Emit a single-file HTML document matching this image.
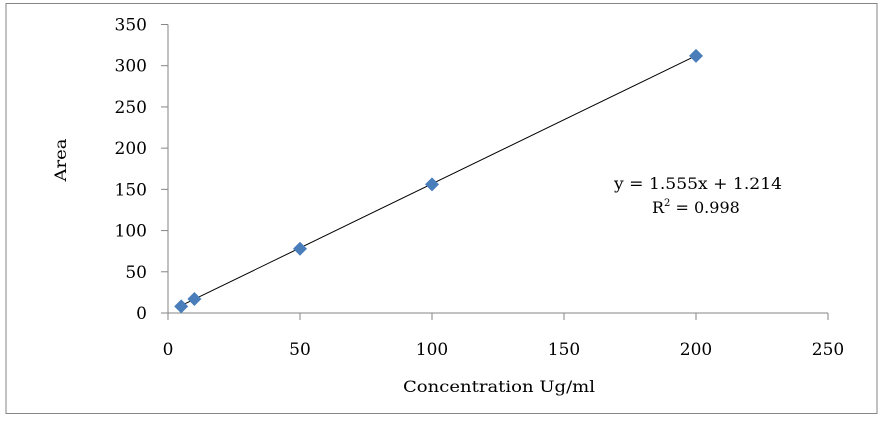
<!DOCTYPE html>
<html><head><meta charset="utf-8"><style>
body{margin:0;background:#fff;}
svg text{font-family:"DejaVu Serif","Liberation Serif",serif;fill:#000;}
</style></head><body>
<svg width="883" height="420">
<rect x="6" y="3.5" width="871" height="410" fill="#fff" stroke="#868686"/>
<g id="axes"></g><g id="marks"></g>
<text x="66" y="160" font-size="16" text-anchor="middle" textLength="43" lengthAdjust="spacingAndGlyphs" transform="rotate(-90 66 160)">Area</text>
<text x="403" y="392" font-size="16" textLength="192" lengthAdjust="spacingAndGlyphs">Concentration Ug/ml</text>
<text x="614" y="189" font-size="16" textLength="168" lengthAdjust="spacingAndGlyphs">y = 1.555x + 1.214</text>
<text x="652" y="213" font-size="16">R<tspan dy="-7" font-size="10">2</tspan><tspan dy="7"> = 0.998</tspan></text>
</svg>
<script>
const xValues=[5,10,50,100,200];
const yValues=[8,17,78,156,312];
const xTicks=[0,50,100,150,200,250];
const yTicks=[0,50,100,150,200,250,300,350];
const slope=1.555, intercept=1.214;
const NS='http://www.w3.org/2000/svg';
const X=v=>168+v*(660/250), Y=v=>313-v*(288.5/350);
function mk(t,a,p){const e=document.createElementNS(NS,t);for(const k in a)e.setAttribute(k,a[k]);p.appendChild(e);return e;}
const ax=document.getElementById('axes'), mk_=document.getElementById('marks');
let l=mk('line',{x1:168,y1:Y(350),x2:168,y2:320,stroke:'#868686'},ax);


l=mk('line',{x1:161,y1:313,x2:X(250),y2:313,stroke:'#868686'},ax);


yTicks.forEach(v=>{mk('line',{x1:161,x2:168,y1:Y(v),y2:Y(v),stroke:'#868686'},ax);
 const t=mk('text',{x:147,y:Y(v)+6,'font-size':17,'text-anchor':'end'},ax);t.textContent=v;
 
 });
xTicks.forEach(v=>{mk('line',{x1:X(v),x2:X(v),y1:313,y2:320,stroke:'#868686'},ax);
 const t=mk('text',{x:X(v),y:355,'font-size':17,'text-anchor':'middle'},ax);t.textContent=v;
 
 });
const x0=Math.min(...xValues),x1=Math.max(...xValues);
l=mk('line',{x1:X(x0),y1:Y(slope*x0+intercept),x2:X(x1),y2:Y(slope*x1+intercept),stroke:'#000','stroke-width':1},mk_);


xValues.forEach((v,i)=>{const cx=X(v),cy=Y(yValues[i]),r=7;
 const p=mk('polygon',{points:`${cx},${cy-r} ${cx+r},${cy} ${cx},${cy+r} ${cx-r},${cy}`,fill:'#4a7ebb'},mk_);
 
 });
</script>
</body></html>
